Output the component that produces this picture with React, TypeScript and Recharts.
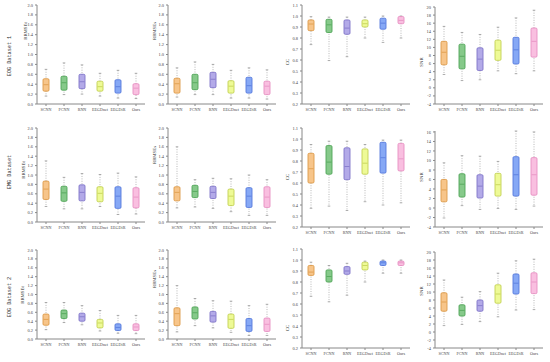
import React from 'react';
import { ComposedChart, Bar, XAxis, YAxis } from 'recharts';

// methods on the x axis
const methods = ['SCNN', 'FCNN', 'RNN', 'EEGDnet', 'EEGDiR', 'Ours'];
const rowNames = ['EOG Dataset 1', 'EMG Dataset', 'EOG Dataset 2'];
const metricNames = ['RRMSEt', 'RRMSEs', 'CC', 'SNR'];

// tick labels
const rrmseTicks = [0, 0.2, 0.4, 0.6, 0.8, 1.0, 1.2, 1.4, 1.6, 1.8, 2.0];
const ccTicks = [0.2, 0.3, 0.4, 0.5, 0.6, 0.7, 0.8, 0.9, 1.0, 1.1];
const snrTicks = [-4, -2, 0, 2, 4, 6, 8, 10, 12, 14, 16, 18, 20];
const snrTicksEmg = [-4, -2, 0, 2, 4, 6, 8, 10, 12, 14, 16];

// box stats per method: [min, q1, median, q3, max]
const eog1RrmseT = [[0.16, 0.26, 0.39, 0.51, 0.70], [0.19, 0.28, 0.43, 0.56, 0.83], [0.20, 0.31, 0.45, 0.60, 0.79], [0.16, 0.26, 0.35, 0.46, 0.62], [0.12, 0.22, 0.35, 0.49, 0.68], [0.11, 0.19, 0.32, 0.41, 0.62]];
const eog1RrmseS = [[0.14, 0.22, 0.41, 0.52, 0.73], [0.19, 0.29, 0.43, 0.60, 0.85], [0.19, 0.33, 0.50, 0.64, 0.80], [0.12, 0.22, 0.36, 0.47, 0.68], [0.12, 0.22, 0.37, 0.54, 0.73], [0.10, 0.19, 0.36, 0.46, 0.69]];
const eog1Cc = [[0.74, 0.867, 0.927, 0.964, 0.994], [0.595, 0.85, 0.92, 0.97, 0.99], [0.63, 0.834, 0.89, 0.964, 0.99], [0.80, 0.90, 0.93, 0.964, 0.99], [0.76, 0.88, 0.935, 0.98, 1.0], [0.80, 0.93, 0.96, 0.995, 1.0]];
const eog1Snr = [[3.3, 5.7, 8.8, 11.5, 15.2], [1.8, 4.7, 7.8, 10.8, 13.7], [2.0, 4.3, 7.1, 9.9, 13.2], [4.2, 6.8, 9.3, 11.8, 15.0], [3.5, 5.9, 9.4, 12.5, 17.3], [4.2, 7.6, 11.5, 14.8, 19.2]];

const emgRrmseT = [[0.33, 0.48, 0.70, 0.87, 1.30], [0.28, 0.44, 0.62, 0.76, 0.95], [0.28, 0.45, 0.63, 0.79, 1.03], [0.33, 0.43, 0.61, 0.75, 1.01], [0.16, 0.29, 0.55, 0.75, 1.04], [0.17, 0.30, 0.53, 0.73, 0.96]];
const emgRrmseS = [[0.30, 0.45, 0.63, 0.75, 1.60], [0.32, 0.52, 0.65, 0.78, 0.90], [0.29, 0.50, 0.63, 0.76, 0.93], [0.22, 0.35, 0.55, 0.70, 0.92], [0.14, 0.31, 0.55, 0.73, 1.00], [0.14, 0.31, 0.53, 0.75, 0.90]];
const emgCc = [[0.37, 0.60, 0.73, 0.87, 0.95], [0.39, 0.68, 0.79, 0.94, 0.98], [0.35, 0.63, 0.75, 0.92, 0.98], [0.43, 0.68, 0.78, 0.91, 0.95], [0.40, 0.69, 0.83, 0.97, 0.99], [0.42, 0.71, 0.82, 0.96, 0.99]];
const emgSnr = [[-2.1, 1.3, 3.8, 6.0, 9.5], [0.5, 2.3, 5.0, 7.2, 11.0], [-0.3, 2.1, 4.6, 7.0, 10.9], [-0.1, 2.5, 4.9, 7.3, 9.8], [-0.3, 2.5, 7.0, 10.8, 16.2], [0.4, 2.7, 7.0, 10.6, 16.0]];

const eog2RrmseT = [[0.21, 0.31, 0.44, 0.56, 0.82], [0.37, 0.46, 0.57, 0.65, 0.82], [0.32, 0.40, 0.50, 0.58, 0.75], [0.18, 0.25, 0.36, 0.44, 0.64], [0.13, 0.19, 0.26, 0.34, 0.53], [0.12, 0.19, 0.27, 0.34, 0.53]];
const eog2RrmseS = [[0.16, 0.30, 0.57, 0.70, 1.20], [0.30, 0.45, 0.59, 0.72, 0.91], [0.25, 0.38, 0.52, 0.62, 0.86], [0.15, 0.24, 0.44, 0.56, 0.85], [0.08, 0.17, 0.30, 0.46, 0.75], [0.08, 0.17, 0.33, 0.47, 0.78]];
const eog2Cc = [[0.67, 0.86, 0.89, 0.95, 0.98], [0.62, 0.80, 0.85, 0.91, 0.95], [0.68, 0.87, 0.90, 0.94, 0.97], [0.80, 0.91, 0.95, 0.98, 0.99], [0.88, 0.95, 0.975, 0.99, 1.0], [0.88, 0.95, 0.975, 0.99, 1.0]];
const eog2Snr = [[1.6, 5.2, 7.5, 9.8, 13.0], [1.9, 4.0, 5.4, 6.8, 8.7], [2.6, 5.2, 6.6, 8.0, 10.1], [3.8, 7.2, 9.5, 11.8, 14.7], [5.5, 9.5, 12.2, 14.5, 17.8], [5.6, 9.6, 12.5, 14.8, 18.2]];

const fills = ['#f7c58a', '#86c98a', '#b3aae8', '#eefa96', '#86a8f5', '#f9bfe0'];
const strokes = ['#dd9a48', '#4fa557', '#7f74c8', '#c2d052', '#5679dc', '#e68fc2'];

const grid = [
  [eog1RrmseT, eog1RrmseS, eog1Cc, eog1Snr],
  [emgRrmseT, emgRrmseS, emgCc, emgSnr],
  [eog2RrmseT, eog2RrmseS, eog2Cc, eog2Snr],
];
const ticksFor = (r: number, c: number) =>
  c < 2 ? rrmseTicks : c === 2 ? ccTicks : r === 1 ? snrTicksEmg : snrTicks;

// layout
const axisX = [37, 168, 302, 435];
const plotW = 108;
const tops = [[5, 5, 5, 7], [128, 128, 128, 131], [250, 250, 249, 252]];
const bottoms = [[104, 104, 104, 104], [222, 222, 227, 227], [339, 339, 348, 348]];
const yLabelPos = [
  [[27, 31], [156, 31], [289, 62], [423, 62]],
  [[25, 170], [156, 155], [289, 177], [423, 177]],
  [[24, 295], [156, 279], [289, 328], [423, 291]],
];
const rowLabelY = [56, 172, 297];

const BoxShape = (props: any) => {
  const { x, y, width, height, payload } = props;
  const [mn, q1, md, q3, mx] = payload.stats;
  const top = Math.min(y, y + height);
  const h = Math.abs(height);
  const span = mx - mn || 1;
  const py = (v: number) => top + ((mx - v) / span) * h;
  const cx = x + width / 2;
  const i = payload.idx;
  return (
    <g>
      <line x1={cx} x2={cx} y1={py(mx)} y2={py(mn)} stroke="#9a9a9a" strokeWidth={0.7} strokeDasharray="1 1.4" />
      <line x1={cx - 1.3} x2={cx + 1.3} y1={py(mx)} y2={py(mx)} stroke="#8a8a8a" strokeWidth={0.7} />
      <line x1={cx - 1.3} x2={cx + 1.3} y1={py(mn)} y2={py(mn)} stroke="#8a8a8a" strokeWidth={0.7} />
      <rect x={x} y={py(q3)} width={width} height={py(q1) - py(q3)} rx={1.2} fill={fills[i]} stroke={strokes[i]} strokeWidth={0.9} />
      <line x1={x + 0.5} x2={x + width - 0.5} y1={py(md)} y2={py(md)} stroke={strokes[i]} strokeWidth={0.8} />
    </g>
  );
};

const Panel = ({ r, c }: { r: number; c: number }) => {
  const stats = grid[r][c];
  const ticks = ticksFor(r, c);
  const data = methods.map((m, i) => ({ name: m, idx: i, stats: stats[i], range: [stats[i][0], stats[i][4]] }));
  const top = tops[r][c];
  const bottom = bottoms[r][c];
  const ml = 22;
  return (
    <div style={{ position: 'absolute', left: axisX[c] - ml, top: top - 5 }}>
      <ComposedChart width={ml + plotW + 3} height={bottom - top + 5 + 12} data={data} margin={{ top: 5, right: 3, left: 0, bottom: 0 }}>
        <XAxis dataKey="name" height={12} interval={0} tickSize={2} stroke="#888" tick={{ fontSize: 4.1, fill: '#444', fontFamily: 'Liberation Serif' }} />
        <YAxis width={ml} type="number" domain={[ticks[0], ticks[ticks.length - 1]]} ticks={ticks} interval={0} tickSize={2} stroke="#888"
          tickFormatter={(v: number) => (c === 3 ? String(v) : v.toFixed(1))}
          tick={{ fontSize: 4.4, fill: '#444', fontFamily: 'Liberation Serif' }} />
        <Bar dataKey="range" barSize={6} isAnimationActive={false} shape={<BoxShape />} />
      </ComposedChart>
    </div>
  );
};

export default function App() {
  const cells: any[] = [];
  for (let r = 0; r < 3; r++) for (let c = 0; c < 4; c++) cells.push(<Panel key={`${r}-${c}`} r={r} c={c} />);
  return (
    <div style={{ position: 'absolute', left: 0, top: 0, width: 550, height: 362, background: '#fff', overflow: 'hidden' }}>
      {cells}
      <svg width={550} height={362} style={{ position: 'absolute', left: 0, top: 0, pointerEvents: 'none' }}>
        {rowNames.map((n, r) => (
          <text key={n} x={0} y={0} transform={`translate(11,${rowLabelY[r]}) rotate(-90)`} textAnchor="middle"
            fontSize={5.2} fontFamily="Liberation Mono" fill="#333">{n}</text>
        ))}
        {yLabelPos.map((row, r) => row.map((p, c) => (
          <text key={`${r}${c}`} x={0} y={0} transform={`translate(${p[0]},${p[1]}) rotate(-90)`} textAnchor="middle"
            fontSize={4.8} fontFamily="Liberation Serif" fill="#333">{metricNames[c]}</text>
        )))}
      </svg>
    </div>
  );
}
